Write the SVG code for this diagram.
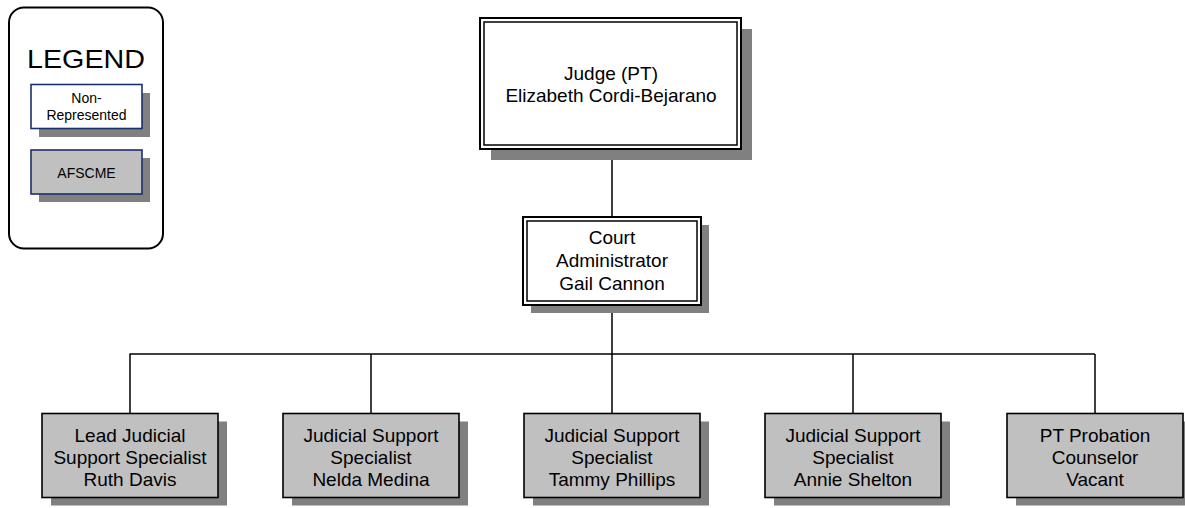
<svg xmlns="http://www.w3.org/2000/svg" width="1185" height="508" viewBox="0 0 1185 508">
  <style>
    text { font-family: "Liberation Sans", Arial, sans-serif; fill: #000; text-anchor: middle; }
    .t19 { font-size: 19px; }
    .shadow { fill: #808080; }
    .staff { fill: #c0c0c0; stroke: #000; stroke-width: 1.6; }
    .frame-out { fill: #fff; stroke: #000; stroke-width: 2; }
    .frame-in { fill: none; stroke: #000; stroke-width: 1.5; }
    .conn { stroke: #000; stroke-width: 1.5; fill: none; }
    .key { stroke: #1a2f6e; stroke-width: 1.6; }
  </style>

  <!-- Legend -->
  <g id="legend">
    <rect x="9" y="7.5" width="154" height="241" rx="15" ry="15" fill="#fff" stroke="#000" stroke-width="2"/>
    <text x="86" y="68" font-size="26px" textLength="118" lengthAdjust="spacingAndGlyphs">LEGEND</text>
    <rect class="shadow" x="39" y="93" width="111" height="44"/>
    <rect class="key" x="31" y="84.5" width="111" height="44" fill="#fff"/>
    <text x="86.5" y="103" font-size="14px">Non-</text>
    <text x="86.5" y="120" font-size="14px">Represented</text>
    <rect class="shadow" x="39" y="158" width="111" height="44"/>
    <rect class="key" x="31" y="150" width="111" height="44" fill="#c0c0c0"/>
    <text x="86.5" y="178" font-size="14px">AFSCME</text>
  </g>

  <!-- Connectors -->
  <g id="connectors">
    <line class="conn" x1="612" y1="149" x2="612" y2="217"/>
    <line class="conn" x1="612" y1="305" x2="612" y2="354"/>
    <line class="conn" x1="129.5" y1="354" x2="1095" y2="354"/>
    <line class="conn" x1="130" y1="354" x2="130" y2="413"/>
    <line class="conn" x1="371" y1="354" x2="371" y2="413"/>
    <line class="conn" x1="612" y1="354" x2="612" y2="413"/>
    <line class="conn" x1="853" y1="354" x2="853" y2="413"/>
    <line class="conn" x1="1095" y1="354" x2="1095" y2="413"/>
  </g>

  <!-- Judge -->
  <g id="judge">
    <rect class="shadow" x="491" y="29" width="261" height="131"/>
    <rect class="frame-out" x="480" y="18" width="261" height="131"/>
    <rect class="frame-in" x="484" y="22" width="253" height="123"/>
    <text class="t19" x="611" y="80">Judge (PT)</text>
    <text class="t19" x="611" y="102">Elizabeth Cordi-Bejarano</text>
  </g>

  <!-- Court Administrator -->
  <g id="court-administrator">
    <rect class="shadow" x="531" y="225" width="178" height="88"/>
    <rect class="frame-out" x="523" y="217" width="178" height="88"/>
    <rect class="frame-in" x="527" y="221" width="170" height="80"/>
    <text class="t19" x="612" y="243.5">Court</text>
    <text class="t19" x="612" y="266.5">Administrator</text>
    <text class="t19" x="612" y="290">Gail Cannon</text>
  </g>

  <!-- Staff -->
  <g id="lead-jss">
    <rect class="shadow" x="51" y="421.5" width="176" height="84"/>
    <rect class="staff" x="42" y="413.5" width="176" height="84"/>
    <text class="t19" x="130" y="441.5">Lead Judicial</text>
    <text class="t19" x="130" y="463.5">Support Specialist</text>
    <text class="t19" x="130" y="485.5">Ruth Davis</text>
  </g>
  <g id="jss-medina">
    <rect class="shadow" x="292" y="421.5" width="176" height="84"/>
    <rect class="staff" x="283" y="413.5" width="176" height="84"/>
    <text class="t19" x="371" y="441.5">Judicial Support</text>
    <text class="t19" x="371" y="463.5">Specialist</text>
    <text class="t19" x="371" y="485.5">Nelda Medina</text>
  </g>
  <g id="jss-phillips">
    <rect class="shadow" x="533" y="421.5" width="176" height="84"/>
    <rect class="staff" x="524" y="413.5" width="176" height="84"/>
    <text class="t19" x="612" y="441.5">Judicial Support</text>
    <text class="t19" x="612" y="463.5">Specialist</text>
    <text class="t19" x="612" y="485.5">Tammy Phillips</text>
  </g>
  <g id="jss-shelton">
    <rect class="shadow" x="774" y="421.5" width="176" height="84"/>
    <rect class="staff" x="765" y="413.5" width="176" height="84"/>
    <text class="t19" x="853" y="441.5">Judicial Support</text>
    <text class="t19" x="853" y="463.5">Specialist</text>
    <text class="t19" x="853" y="485.5">Annie Shelton</text>
  </g>
  <g id="probation-counselor">
    <rect class="shadow" x="1016" y="421.5" width="176" height="84"/>
    <rect class="staff" x="1007" y="413.5" width="176" height="84"/>
    <text class="t19" x="1095" y="441.5">PT Probation</text>
    <text class="t19" x="1095" y="463.5">Counselor</text>
    <text class="t19" x="1095" y="485.5">Vacant</text>
  </g>
</svg>
